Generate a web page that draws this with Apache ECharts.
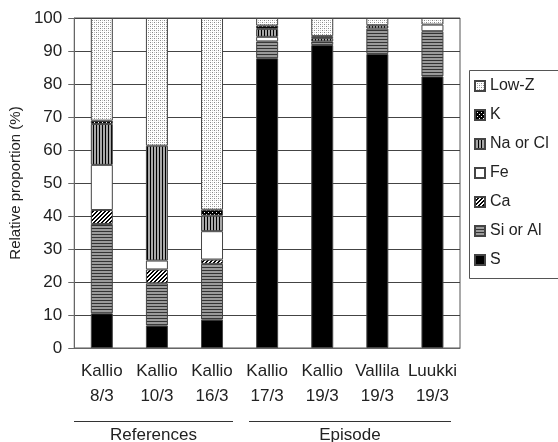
<!DOCTYPE html>
<html><head><meta charset="utf-8">
<script src="https://cdn.jsdelivr.net/npm/echarts@6/dist/echarts.min.js"></script>
<style>html,body{margin:0;padding:0;background:#fff}#c{width:558px;height:442px}</style>
</head><body><div id="c"></div>
<script>
const categories = ['Kallio\n8/3','Kallio\n10/3','Kallio\n16/3','Kallio\n17/3','Kallio\n19/3','Vallila\n19/3','Luukki\n19/3'];
const sVals    = [10.5, 6.8, 8.6, 87.8, 91.8, 89.1, 82.3];
const siAlVals = [27.1, 12.8, 16.9, 5.1, 1.1, 7.7, 13.7];
const caVals   = [4.2, 4.2, 1.3, 0, 0, 0, 0];
const feVals   = [13.7, 2.7, 8.6, 1.4, 0, 0, 2.0];
const naClVals = [12.4, 34.8, 4.7, 2.4, 1.0, 1.0, 0];
const kVals    = [1.0, 0, 1.8, 1.0, 0.6, 0, 0];
const lowZVals = [31.1, 38.7, 58.1, 2.3, 5.5, 2.2, 2.0];
const groupLabels = ['References', 'Episode'];
const legendOrder = ['Low-Z','K','Na or Cl','Fe','Ca','Si or Al','S'];

function pat(w, h, bg, draw) {
  const c = document.createElement('canvas'); c.width = w; c.height = h;
  const g = c.getContext('2d'); g.fillStyle = bg; g.fillRect(0, 0, w, h); draw(g);
  return { image: c, repeat: 'repeat' };
}
const P = {
  lowZ: pat(4, 4, '#fff', g => { g.fillStyle = '#888'; g.fillRect(0,0,1,1); g.fillRect(2,2,1,1); g.fillStyle='#c4c4c4'; g.fillRect(2,0,1,1); g.fillRect(0,2,1,1); }),
  k: pat(4, 4, '#000', g => { g.fillStyle = '#fff'; g.fillRect(0,0,1,1); g.fillRect(2,2,1,1); }),
  naCl: pat(3, 1, '#a8a8a8', g => { g.fillStyle = '#000'; g.fillRect(0,0,1,1); }),
  fe: '#ffffff',
  ca: pat(4, 4, '#fff', g => { g.fillStyle = '#000'; for (let i = 0; i < 4; i++) { g.fillRect((3 - i + 4) % 4, i, 1, 1); g.fillRect((4 - i + 4) % 4, i, 1, 1); } }),
  siAl: pat(1, 3, '#9a9a9a', g => { g.fillStyle = '#333'; g.fillRect(0,0,1,1); }),
  s: '#000000'
};
function ser(name, vals, color) {
  return { name, type: 'bar', stack: 'total', barWidth: 22,
    data: vals.map(v => v === 0 ? '-' : v),
    itemStyle: { color, borderColor: '#444', borderWidth: 1 } };
}
const FF = 'Liberation Sans, Arial, sans-serif';
const chart = echarts.init(document.getElementById('c'));
chart.setOption({
  animation: false,
  backgroundColor: '#fff',
  textStyle: { fontFamily: FF },
  grid: { left: 74, right: 98, top: 18, bottom: 94, show: true, borderColor: '#555', borderWidth: 1 },
  legend: {
    orient: 'vertical', left: 469, top: 70, data: legendOrder, icon: 'rect',
    itemWidth: 10, itemHeight: 10, itemGap: 13,
    padding: [8, 10, 11, 5], borderWidth: 0,
    textStyle: { fontSize: 16, lineHeight: 16, color: '#222', fontFamily: FF }
  },
  xAxis: {
    type: 'category', data: categories,
    axisLine: { lineStyle: { color: '#666' } },
    axisTick: { length: 6, lineStyle: { color: '#666' } },
    axisLabel: { fontSize: 17, lineHeight: 25, margin: 11, interval: 0, color: '#222', fontFamily: FF }
  },
  yAxis: {
    type: 'value', min: 0, max: 100, interval: 10,
    name: 'Relative proportion (%)', nameLocation: 'middle', nameGap: 49,
    nameTextStyle: { fontSize: 15, color: '#222', fontFamily: FF },
    axisLine: { show: true, lineStyle: { color: '#666' } },
    axisTick: { show: true, length: 6, lineStyle: { color: '#666' } },
    axisLabel: { fontSize: 17, margin: 12, color: '#222', fontFamily: FF },
    splitLine: { lineStyle: { color: '#444' } }
  },
  graphic: [
    { type: 'rect', shape: { x: 469.5, y: 70.5, width: 140, height: 208 }, style: { fill: 'none', stroke: '#555', lineWidth: 1 } },
    { type: 'line', shape: { x1: 74, y1: 421.5, x2: 233, y2: 421.5 }, style: { stroke: '#333', lineWidth: 1 } },
    { type: 'line', shape: { x1: 249, y1: 421.5, x2: 451, y2: 421.5 }, style: { stroke: '#333', lineWidth: 1 } },
    { type: 'text', x: 153.5, y: 435, style: { text: groupLabels[0], font: '17px ' + FF, fill: '#222', align: 'center', verticalAlign: 'middle', textAlign: 'center', textVerticalAlign: 'middle' } },
    { type: 'text', x: 350, y: 435, style: { text: groupLabels[1], font: '17px ' + FF, fill: '#222', align: 'center', verticalAlign: 'middle', textAlign: 'center', textVerticalAlign: 'middle' } }
  ],
  series: [
    ser('S', sVals, P.s),
    ser('Si or Al', siAlVals, P.siAl),
    ser('Ca', caVals, P.ca),
    ser('Fe', feVals, P.fe),
    ser('Na or Cl', naClVals, P.naCl),
    ser('K', kVals, P.k),
    ser('Low-Z', lowZVals, P.lowZ)
  ]
});
</script></body></html>
